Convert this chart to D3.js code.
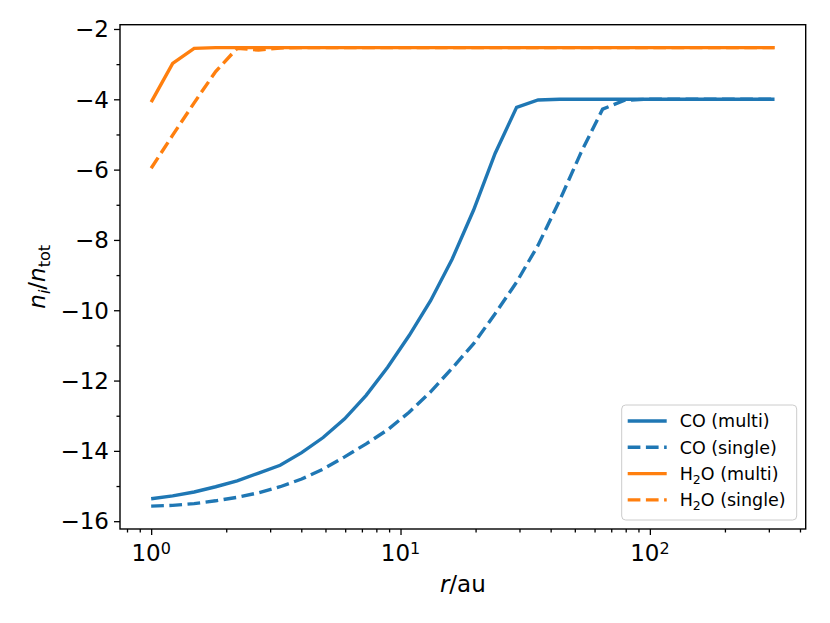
<!DOCTYPE html>
<html>
<head>
<meta charset="utf-8">
<script src="https://cdn.jsdelivr.net/npm/d3@7"></script>
<style>
	body { margin: 0; background: #fff; }
	svg text { font-family: "DejaVu Sans", sans-serif; fill: #000; }
</style>
</head>
<body>
<svg id="chart" width="830" height="623"></svg>
<script>
// radius in au (log spaced grid, 30 points)
var radius = [1.000, 1.2196, 1.4873, 1.8139, 2.2122, 2.698, 3.2905, 4.0131, 4.8944, 5.9692,
	7.2802, 8.8791, 10.83, 13.20, 16.10, 19.64, 23.95, 29.21, 35.62, 43.45,
	52.99, 64.62, 78.81, 96.11, 117.2, 142.9, 174.3, 212.6, 259.3, 316.2];

var coMulti = [-15.36, -15.28, -15.17, -15.02, -14.85, -14.63, -14.41, -14.05, -13.62, -13.09,
	-12.42, -11.62, -10.72, -9.73, -8.55, -7.15, -5.54, -4.23, -4.02, -4.0,
	-4.0, -4.0, -4.0, -4.0, -4.0, -4.0, -4.0, -4.0, -4.0, -4.0];

var coSingle = [-15.57, -15.55, -15.50, -15.42, -15.32, -15.19, -15.02, -14.80, -14.52, -14.17,
	-13.80, -13.40, -12.90, -12.32, -11.65, -10.95, -10.10, -9.20, -8.15, -6.88,
	-5.51, -4.28, -4.03, -4.0, -4.0, -4.0, -4.0, -4.0, -4.0, -4.0];

var h2oMulti = [-4.08, -2.98, -2.55, -2.53, -2.53, -2.53, -2.53, -2.53, -2.53, -2.53,
	-2.53, -2.53, -2.53, -2.53, -2.53, -2.53, -2.53, -2.53, -2.53, -2.53,
	-2.53, -2.53, -2.53, -2.53, -2.53, -2.53, -2.53, -2.53, -2.53, -2.53];

var h2oSingle = [-5.96, -5.02, -4.10, -3.21, -2.55, -2.60, -2.54, -2.53, -2.53, -2.53,
	-2.53, -2.53, -2.53, -2.53, -2.53, -2.53, -2.53, -2.53, -2.53, -2.53,
	-2.53, -2.53, -2.53, -2.53, -2.53, -2.53, -2.53, -2.53, -2.53, -2.53];

var seriesNames = ["CO (multi)", "CO (single)", "H2O (multi)", "H2O (single)"];
var yTicks = [-16, -14, -12, -10, -8, -6, -4, -2];
var xTicks = [1, 10, 100];
var xTickExponents = ["0", "1", "2"];

var series = [
	{ name: seriesNames[0], values: coMulti, color: "#1f77b4", dashed: false },
	{ name: seriesNames[1], values: coSingle, color: "#1f77b4", dashed: true },
	{ name: seriesNames[2], values: h2oMulti, color: "#ff7f0e", dashed: false },
	{ name: seriesNames[3], values: h2oSingle, color: "#ff7f0e", dashed: true }
];

var margin = { top: 24.7, right: 24.3, bottom: 94, left: 120 };
var width = 830 - margin.left - margin.right,
	height = 623 - margin.top - margin.bottom;

var svg = d3.select("#chart");
var g = svg.append("g")
	.attr("transform", "translate(" + margin.left + "," + margin.top + ")");

// matplotlib style 5% padding (in log space for x)
var lx = [Math.log10(d3.min(radius)), Math.log10(d3.max(radius))];
var padX = (lx[1] - lx[0]) * 0.05;
var allY = coMulti.concat(coSingle, h2oMulti, h2oSingle);
var ly = d3.extent(allY);
var padY = (ly[1] - ly[0]) * 0.05;

var x = d3.scaleLog()
	.domain([Math.pow(10, lx[0] - padX), Math.pow(10, lx[1] + padX)])
	.range([0, width]);
var y = d3.scaleLinear()
	.domain([ly[0] - padY, ly[1] + padY])
	.range([height, 0]);

// minor ticks
var minorX = [];
[0.1, 1, 10, 100].forEach(function(dec) {
	for (var k = 2; k <= 9; k++) {
		var v = dec * k;
		if (v > x.domain()[0] && v < x.domain()[1]) minorX.push(v);
	}
});
var minorY = [];
for (var v = -15; v <= -3; v += 2) minorY.push(v);

var styleAxis = function(sel) {
	sel.select(".domain").remove();
	sel.selectAll(".tick line").attr("stroke", "#000").attr("stroke-width", 1.3);
};

g.append("g")
	.attr("transform", "translate(0," + height + ")")
	.call(d3.axisBottom(x).tickValues(minorX).tickSize(3.5).tickFormat(""))
	.call(styleAxis);
var xAxis = g.append("g")
	.attr("transform", "translate(0," + height + ")")
	.call(d3.axisBottom(x).tickValues(xTicks).tickSize(6).tickFormat(""))
	.call(styleAxis);

g.append("g")
	.call(d3.axisLeft(y).tickValues(minorY).tickSize(3.5).tickFormat(""))
	.call(styleAxis);
g.append("g")
	.call(d3.axisLeft(y).tickValues(yTicks).tickSize(6).tickFormat(""))
	.call(styleAxis);

// x tick labels 10^n
xTicks.forEach(function(t, i) {
	var txt = g.append("text")
		.attr("x", x(t))
		.attr("y", height + 32)
		.attr("text-anchor", "middle")
		.style("font-size", "23px");
	txt.append("tspan").text("10");
	txt.append("tspan")
		.attr("dy", "-0.45em")
		.style("font-size", "16px")
		.text(xTickExponents[i]);
});

// y tick labels
yTicks.forEach(function(t) {
	g.append("text")
		.attr("x", -11)
		.attr("y", y(t))
		.attr("dy", "0.36em")
		.attr("text-anchor", "end")
		.style("font-size", "23px")
		.text("\u2212" + Math.abs(t));
});

// lines
var line = d3.line()
	.x(function(d) { return x(d[0]); })
	.y(function(d) { return y(d[1]); });

series.forEach(function(s) {
	g.append("path")
		.datum(radius.map(function(r, i) { return [r, s.values[i]]; }))
		.attr("fill", "none")
		.attr("stroke", s.color)
		.attr("stroke-width", 3.4)
		.attr("stroke-dasharray", s.dashed ? "12.7,5.5" : null)
		.attr("d", line);
});

// frame
g.append("rect")
	.attr("width", width)
	.attr("height", height)
	.attr("fill", "none")
	.attr("stroke", "#000")
	.attr("stroke-width", 1.4);

// axis labels
var xl = svg.append("text")
	.attr("x", margin.left + width / 2)
	.attr("y", 592)
	.attr("text-anchor", "middle")
	.style("font-size", "23px");
xl.append("tspan").style("font-style", "italic").text("r");
xl.append("tspan").text("/au");

var yl = svg.append("text")
	.attr("transform", "translate(45," + (margin.top + height / 2) + ") rotate(-90)")
	.attr("text-anchor", "middle")
	.style("font-size", "23px");
yl.append("tspan").style("font-style", "italic").text("n");
yl.append("tspan").style("font-style", "italic").style("font-size", "16px").attr("dy", "5").text("i");
yl.append("tspan").attr("dy", "-5").text("/");
yl.append("tspan").style("font-style", "italic").text("n");
yl.append("tspan").style("font-size", "16px").attr("dy", "5").text("tot");

// legend
var legend = svg.append("g").attr("transform", "translate(621.7,405)");
legend.append("rect")
	.attr("width", 175)
	.attr("height", 115)
	.attr("rx", 4)
	.attr("fill", "#fff")
	.attr("fill-opacity", 0.8)
	.attr("stroke", "#cccccc");

series.forEach(function(s, i) {
	var row = legend.append("g").attr("transform", "translate(0," + (16 + i * 26.3) + ")");
	row.append("line")
		.attr("x1", 6).attr("x2", 45)
		.attr("stroke", s.color)
		.attr("stroke-width", 3.4)
		.attr("stroke-dasharray", s.dashed ? "12.7,5.5" : null);
	var t = row.append("text")
		.attr("x", 58)
		.attr("dy", "0.36em")
		.style("font-size", "17.5px");
	if (s.name.indexOf("H2O") === 0) {
		t.append("tspan").text("H");
		t.append("tspan").attr("dy", 4).style("font-size", "12.5px").text("2");
		t.append("tspan").attr("dy", -4).text("O" + s.name.slice(3));
	} else {
		t.text(s.name);
	}
});
</script>
</body>
</html>
